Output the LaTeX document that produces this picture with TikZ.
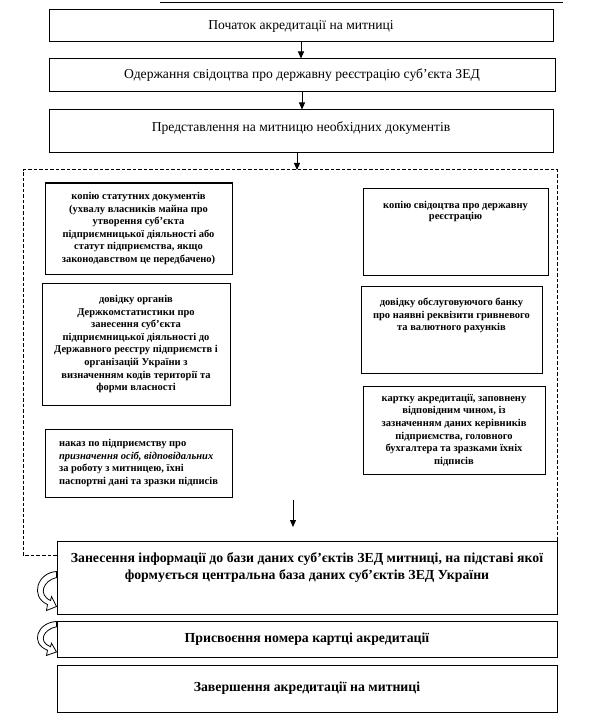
\documentclass[tikz,border=0pt]{standalone}
\usepackage{fontspec}
\setmainfont{Liberation Serif}
\usetikzlibrary{arrows.meta}
\begin{document}
\begin{tikzpicture}[x=1pt,y=-1pt,
  frame/.style={draw, line width=1pt, rectangle, inner sep=0pt},
  bigtxt/.style={font=\fontsize{13.6}{15}\selectfont},
  boldbig/.style={font=\fontsize{13.8}{17}\selectfont\bfseries},
  smalltxt/.style={font=\fontsize{10.5}{12.6}\selectfont\bfseries},
  flow/.style={-{Triangle[length=7pt,width=6pt]}, line width=1pt},
  dfr/.style={line width=1pt, dash pattern=on 3.5pt off 2pt},
  carrow/.pic={\draw[line width=0.8pt, fill=white]
     (0,0) .. controls (-19,1) and (-27,25) .. (-9,33) -- (-10,39) -- (0,35)
     -- (-5,25) -- (-6,29) .. controls (-19,23) and (-13,9) .. (0,6) -- cycle;}
]
\useasboundingbox (0,0) rectangle (600,722);
\fill[white] (0,0) rectangle (600,722);

% stray scan line at top
\draw[line width=1pt] (160,3) -- (563,3);

% top chain
\node[frame, bigtxt, minimum width=504pt, minimum height=32pt] (b1) at (301,26) {Початок акредитації на митниці};
\node[frame, bigtxt, minimum width=506pt, minimum height=33pt] (b2) at (302,75.5) {Одержання свідоцтва про державну реєстрацію суб'єкта ЗЕД};
\node[frame, bigtxt, minimum width=504pt, minimum height=43pt] (b3) at (301,131.5)
  {\parbox[c][43pt][c]{500pt}{\centering Представлення на митницю необхідних документів\par\vspace{7pt}}};

\coordinate (dtop) at (297,170);
\coordinate (dbl) at (23,555);

\draw[flow] (b1.south) -- (b1.south |- b2.north);
\draw[flow] (b2.south) -- (b2.south |- b3.north);
\draw[flow] (b3.south -| dtop) -- (dtop);

% document boxes, left column
\node[frame, smalltxt, align=center, minimum width=187pt, minimum height=91pt] (dA) at (138.5,228.5)
  {копію статутних документів\\(ухвалу власників майна про\\утворення суб'єкта\\підприємницької діяльності або\\статут підприємства, якщо\\законодавством це передбачено)};
\node[frame, smalltxt, align=center, minimum width=188pt, minimum height=122pt] (dB) at (136,344)
  {довідку органів\\Держкомстатистики про\\занесення суб'єкта\\підприємницької діяльності до\\Державного реєстру підприємств і\\організацій України з\\визначенням кодів території та\\форми власності};
\node[frame, smalltxt, align=left, minimum width=187pt, minimum height=68pt] (dI) at (138.5,463)
  {наказ по підприємству про\\\textit{призначення осіб, відповідальних}\\за роботу з митницею, їхні\\паспортні дані та зразки підписів};

% document boxes, right column
\node[frame, smalltxt, minimum width=185pt, minimum height=87pt] (dC) at (455.5,231.5)
  {\parbox[c][87pt][t]{181pt}{\centering\vspace*{13pt}копію свідоцтва про державну\\[-1.5pt]реєстрацію}};
\node[frame, smalltxt, minimum width=181pt, minimum height=87pt] (dD) at (451.5,329.5)
  {\parbox[c][87pt][t]{177pt}{\centering\vspace*{12pt}довідку обслуговуючого банку\\про наявні реквізити гривневого\\та валютного рахунків}};
\node[frame, smalltxt, align=center, minimum width=182pt, minimum height=88pt] (dE) at (454,430)
  {картку акредитації, заповнену\\відповідним чином, із\\зазначенням даних керівників\\підприємства, головного\\бухгалтера та зразками їхніх\\підписів};

\coordinate (ia) at (293,500);
\coordinate (ib) at (293,527);
\draw[flow] (ia) -- (ib);

% bottom chain
\node[frame, boldbig, minimum width=500pt, minimum height=73pt] (bF) at (307,577.5)
  {\parbox[c][73pt][t]{498pt}{\centering\vspace*{12pt}Занесення інформації до бази даних суб'єктів ЗЕД митниці, на підставі якої\\формується центральна база даних суб'єктів ЗЕД України}};
\node[frame, boldbig, minimum width=500pt, minimum height=36pt] (bG) at (307,639) {Присвоєння номера картці акредитації};
\node[frame, boldbig, minimum width=500pt, minimum height=47pt] (bH) at (307,688.5) {Завершення акредитації на митниці};

% dashed frame
\draw[dfr] (bF.north east) -- (bF.north east |- dtop) -- (dbl |- dtop) -- (dbl) -- (dbl -| bF.west);

% curved return arrows
\path (bF.north west) ++(0,31) pic {carrow};
\path (bG.north west) ++(0,1) pic[yscale=0.87] {carrow};
\end{tikzpicture}
\end{document}
